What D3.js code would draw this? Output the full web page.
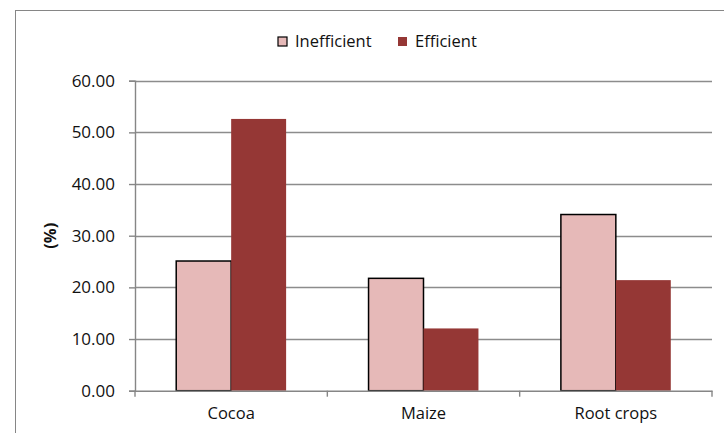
<!DOCTYPE html>
<html>
<head>
<meta charset="utf-8">
<script src="https://cdn.jsdelivr.net/npm/d3@7/dist/d3.min.js"></script>
<style>
  html, body { margin: 0; padding: 0; background: #fff; }
  svg { display: block; font-family: "Open Sans", Lato, sans-serif; }
</style>
</head>
<body>
<svg id="chart" width="724" height="433"></svg>
<script>
const categories = ["Cocoa", "Maize", "Root crops"];
const seriesNames = ["Inefficient", "Efficient"];
const inefficient = [25.1, 21.75, 34.1];
const efficient = [52.6, 12.05, 21.4];
const yTicks = [0, 10, 20, 30, 40, 50, 60];

const colors = { Inefficient: "#E6B9B8", Efficient: "#953735" };
const strokes = { Inefficient: "#000", Efficient: "none" };
const FONT = "'Open Sans', Lato, sans-serif";

const svg = d3.select("#chart");
const W = 724, H = 433;
const plot = { left: 135, right: 712, top: 80.7, bottom: 390.7 };

// outer frame
svg.append("rect")
  .attr("x", 15.5).attr("y", 10.5)
  .attr("width", W).attr("height", H)
  .attr("fill", "none").attr("stroke", "#868686").attr("stroke-width", 1);

const y = d3.scaleLinear().domain([0, 60]).range([plot.bottom, plot.top]);
const x0 = d3.scaleBand().domain(categories).range([plot.left, plot.right])
  .paddingInner(0.4286).paddingOuter(0.2143);
const x1 = d3.scaleBand().domain(seriesNames).range([0, x0.bandwidth()]);

// gridlines
svg.append("g").selectAll("line").data(yTicks.filter(d => d > 0)).join("line")
  .attr("x1", plot.left).attr("x2", plot.right)
  .attr("y1", d => Math.round(y(d)) + 0.5).attr("y2", d => Math.round(y(d)) + 0.5)
  .attr("stroke", "#8c8c8c").attr("stroke-width", 1.4);

// bars
const data = categories.map((c, i) => ({ cat: c, vals: [
  { s: "Inefficient", v: inefficient[i] }, { s: "Efficient", v: efficient[i] }] }));

const g = svg.append("g");
g.selectAll("g").data(data).join("g")
  .attr("transform", d => `translate(${x0(d.cat)},0)`)
  .selectAll("rect").data(d => d.vals).join("rect")
  .attr("x", d => x1(d.s))
  .attr("y", d => y(d.v))
  .attr("width", x1.bandwidth())
  .attr("height", d => y(0) - y(d.v))
  .attr("fill", d => colors[d.s])
  .attr("stroke", d => strokes[d.s])
  .attr("stroke-width", 1.5);

// y axis
const yAxis = d3.axisLeft(y).tickValues(yTicks).tickFormat(d3.format(".2f"))
  .tickSize(6).tickPadding(14);
const ya = svg.append("g").attr("transform", `translate(${plot.left},0)`).call(yAxis);
ya.select(".domain").attr("stroke", "#868686").attr("stroke-width", 1.4);
ya.selectAll(".tick line").attr("stroke", "#868686").attr("stroke-width", 1.4);
ya.selectAll(".tick text").attr("font-size", 17).attr("fill", "#111")
  .attr("font-family", FONT);

// x axis
const xa = svg.append("g").attr("transform", `translate(0,${plot.bottom})`)
  .call(d3.axisBottom(x0).tickSize(0).tickPadding(16.5));
xa.select(".domain").attr("stroke", "#868686").attr("stroke-width", 1.4);
xa.selectAll(".tick text").attr("font-size", 16.5).attr("fill", "#111")
  .attr("font-family", FONT);
// category separator ticks
const sepX = [plot.left].concat(categories.map(c => x0(c) + x0.bandwidth() + x0.step() * x0.paddingInner() / 2));
sepX[sepX.length - 1] = plot.right;
svg.append("g").selectAll("line").data(sepX).join("line")
  .attr("x1", d => d).attr("x2", d => d)
  .attr("y1", plot.bottom).attr("y2", plot.bottom + 6)
  .attr("stroke", "#868686").attr("stroke-width", 1.4);

// y label
svg.append("text")
  .attr("transform", `translate(56,${(plot.top + plot.bottom) / 2}) rotate(-90)`)
  .attr("text-anchor", "middle")
  .attr("font-weight", "bold").attr("font-size", 16.5).attr("fill", "#111")
  .text("(%)");

// legend
const legend = svg.append("g");
const legendItems = [{ s: "Inefficient", x: 278 }, { s: "Efficient", x: 398 }];
legendItems.forEach(it => {
  legend.append("rect").attr("x", it.x).attr("y", 37).attr("width", 9).attr("height", 9)
    .attr("fill", colors[it.s]).attr("stroke", strokes[it.s]).attr("stroke-width", 1.2);
  legend.append("text").attr("x", it.x + 17).attr("y", 41).attr("dy", "0.35em")
    .attr("font-size", 16.5).attr("fill", "#111").text(it.s);
});
</script>
</body>
</html>
